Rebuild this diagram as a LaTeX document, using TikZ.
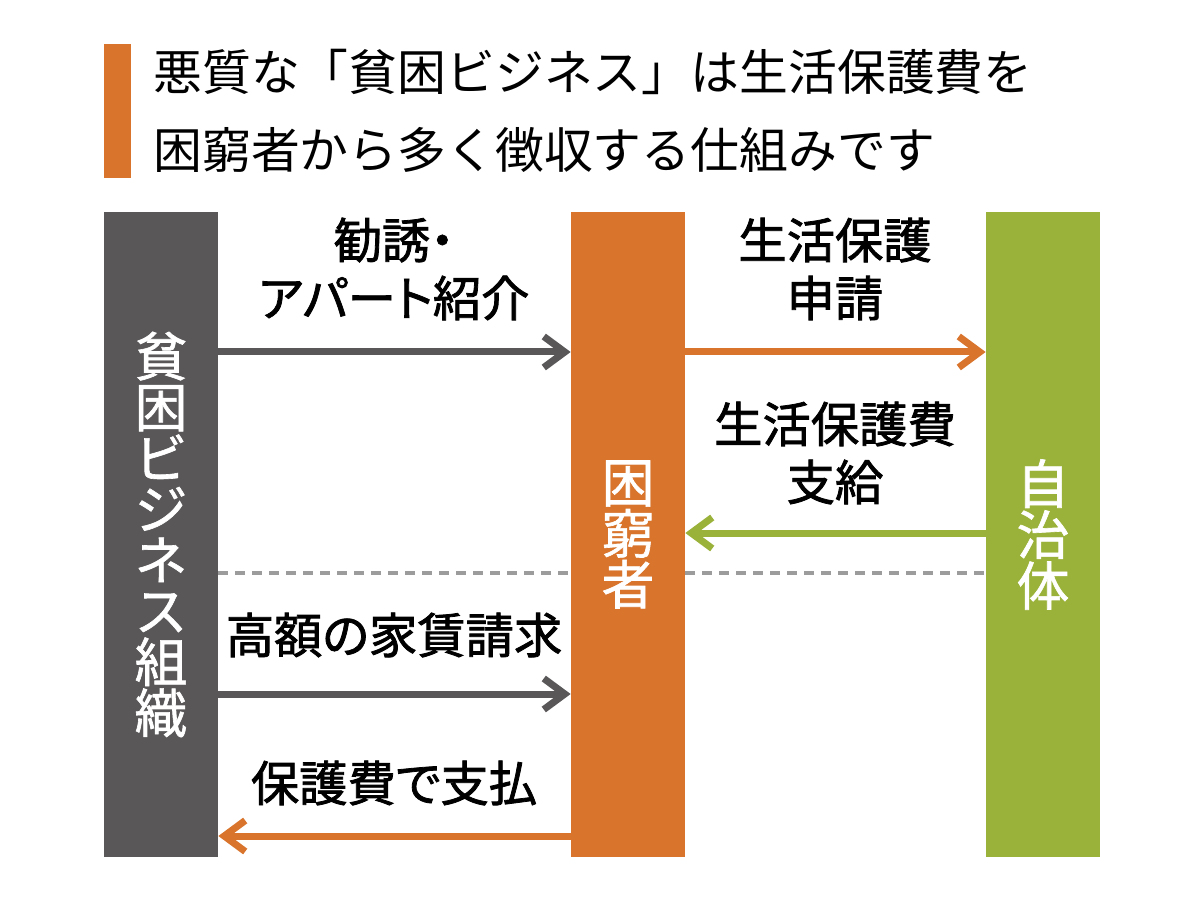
\documentclass[tikz,border=0pt]{standalone}
\usepackage{fontspec}
\setmainfont{Noto Sans CJK JP}
\newfontfamily\lblfont{Noto Sans CJK JP}[FakeBold=1.6, RawFeature=+palt]
\newfontfamily\colfont{Noto Sans CJK JP}[FakeBold=1.2]
\usepackage{tikz}
\usetikzlibrary{positioning,arrows.meta,calc}

\definecolor{bizgray}{HTML}{595757}
\definecolor{poororange}{HTML}{D8742C}
\definecolor{citygreen}{HTML}{9AB23A}
\definecolor{dashgray}{HTML}{9C9C9C}

\begin{document}
\begin{tikzpicture}[
    x=0.02cm, y=-0.02cm,
    column/.style={
        rectangle, minimum width=2.28cm, minimum height=12.9cm, inner sep=0,
        text=white, align=center,
        font=\colfont\fontsize{30pt}{29pt}\selectfont
    },
    label/.style={
        align=center, inner sep=0,
        font=\lblfont\fontsize{27.5pt}{33pt}\selectfont
    },
    flow/.style={
        line width=0.14cm,
        -{Straight Barb[length=0.42cm, width=0.62cm, line width=0.14cm]}
    },
    split/.style={
        dashgray, line width=0.08cm, dash pattern=on 0.2cm off 0.14cm
    }
]

\useasboundingbox (0,0) rectangle (1200,898);

% Title
\fill[poororange] (104,44) rectangle (131,178);
\node[anchor=west, align=left, inner sep=0,
      font=\fontsize{27.8pt}{44.5pt}\selectfont] (title) at (153,111)
    {悪質な「貧困ビジネス」は生活保護費を\\困窮者から多く徴収する仕組みです};

% Columns
\node[column, fill=bizgray] (biz) at (161,534.5)
    {貧\\困\\ビ\\ジ\\ネ\\ス\\組\\織};
\node[column, fill=poororange] (poor) at (628,534.5)
    {困\\窮\\者};
\node[column, fill=citygreen] (city) at (1043,534.5)
    {自\\治\\体};

% Rows
\coordinate (r1) at (0,352);
\coordinate (r2) at (0,533);
\coordinate (rd) at (0,573);
\coordinate (r3) at (0,694);
\coordinate (r4) at (0,836);

% Labels
\node[label] (lsolicit) at (394,269) {勧誘・\\アパート紹介};
\node[label] (lapply) at (835,269) {生活保護\\申請};
\node[label] (lgrant) at (835,453) {生活保護費\\支給};
\node[label] (lrent) at (394,635) {高額の家賃請求};
\node[label] (lpay) at (394,783) {保護費で支払};

% Arrows
\foreach \from/\to/\row/\col in {
    biz.east/poor.west/r1/bizgray,
    poor.east/city.west/r1/poororange,
    city.west/poor.east/r2/citygreen,
    biz.east/poor.west/r3/bizgray,
    poor.west/biz.east/r4/poororange}
{
    \draw[flow, \col] (\from |- \row) -- (\to |- \row);
}

% Dashed split
\draw[split] (biz.east |- rd) -- (poor.west |- rd);
\draw[split] (poor.east |- rd) -- (city.west |- rd);

\end{tikzpicture}
\end{document}
